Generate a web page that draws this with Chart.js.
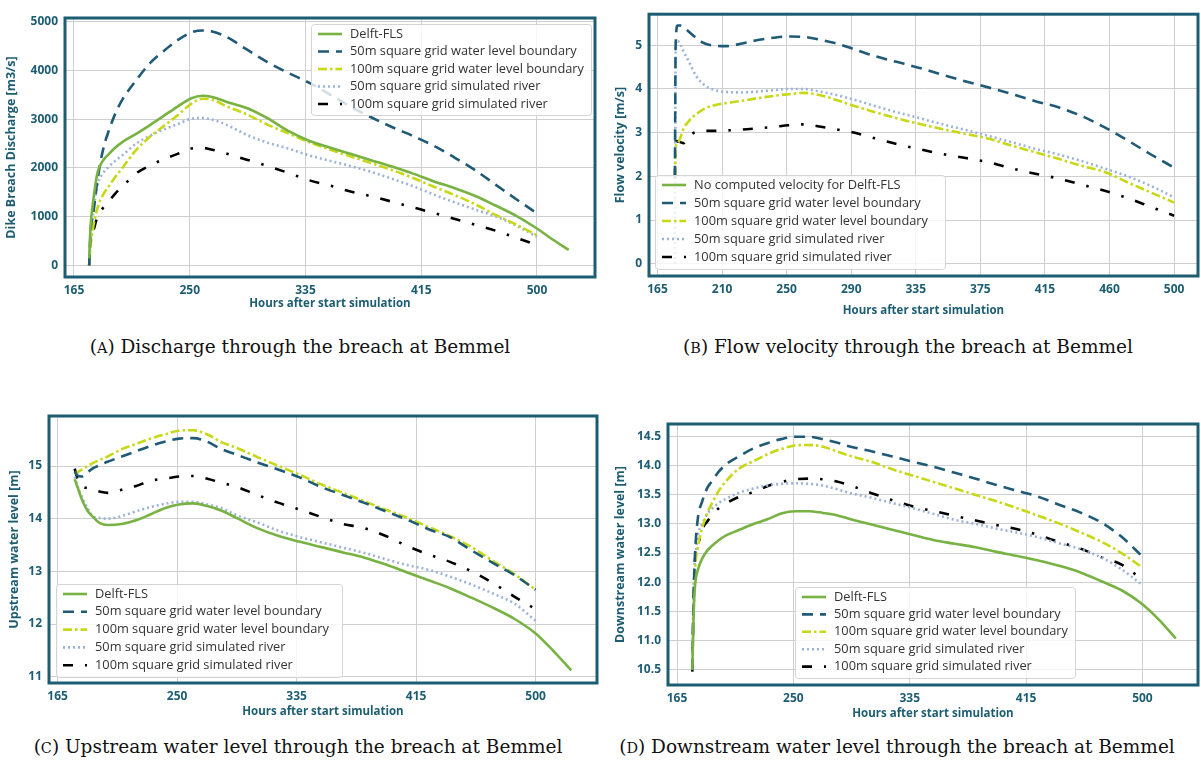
<!DOCTYPE html>
<html lang="en">
<head>
<meta charset="UTF-8">
<title>Breach at Bemmel</title>
<script src="https://cdn.jsdelivr.net/npm/chart.js"></script>
<style>
    body { margin: 0; background: #fff; width: 1201px; height: 765px; position: relative; overflow: hidden; }
    .panel { position: absolute; }
    .caption { position: absolute; text-align: center; font-family: 'DejaVu Serif', serif; font-size: 18.5px; color: #111; white-space: nowrap; }
    .caption .sc { font-size: 0.78em; }
</style>
</head>
<body>
<canvas id="chartA" class="panel" width="600" height="315" style="left:0;top:0"></canvas>
<canvas id="chartB" class="panel" width="601" height="322" style="left:600px;top:0"></canvas>
<canvas id="chartC" class="panel" width="600" height="328" style="left:0;top:395px"></canvas>
<canvas id="chartD" class="panel" width="601" height="325" style="left:600px;top:400px"></canvas>

<div class="caption" style="left:0;width:600px;top:336px">(<span class="sc">A</span>) Discharge through the breach at Bemmel</div>
<div class="caption" style="left:608px;width:600px;top:336px">(<span class="sc">B</span>) Flow velocity through the breach at Bemmel</div>
<div class="caption" style="left:0;width:596px;top:736px">(<span class="sc">C</span>) Upstream water level through the breach at Bemmel</div>
<div class="caption" style="left:597px;width:600px;top:736px">(<span class="sc">D</span>) Downstream water level through the breach at Bemmel</div>

<script>
// series names
const labels = ['Delft-FLS', '50m square grid water level boundary', '100m square grid water level boundary',
    '50m square grid simulated river', '100m square grid simulated river'];
const labelsB = ['No computed velocity for Delft-FLS'].concat(labels.slice(1));

// x ticks (evenly spaced, labels rounded as in the figure)
const xTicks5 = [165, 248.75, 332.5, 416.25, 500];
const xLabels5 = ['165', '250', '335', '415', '500'];
const xTicks9 = [165, 206.875, 248.75, 290.625, 332.5, 374.375, 416.25, 458.125, 500];
const xLabels9 = ['165', '210', '250', '290', '335', '375', '415', '460', '500'];

// (A) discharge [m3/s]
const hoursA = [176, 177, 179, 182, 186, 190, 195, 200, 210, 220, 230, 240, 250, 258, 265, 275, 290, 305, 320, 335, 350, 365, 380, 395, 410, 425, 440, 455, 470, 485, 500, 510, 523];
const delftA = [150, 800, 1344, 1900, 2150, 2280, 2420, 2530, 2700, 2880, 3070, 3260, 3430, 3480, 3455, 3360, 3230, 3020, 2760, 2560, 2420, 2290, 2160, 2030, 1890, 1730, 1590, 1430, 1230, 1020, 760, 560, 320];
const bnd50A = [0, 700, 1073, 1750, 2371, 2750, 3120, 3400, 3800, 4150, 4400, 4620, 4780, 4820, 4800, 4693, 4430, 4170, 3950, 3750, 3510, 3260, 3040, 2840, 2660, 2460, 2220, 1960, 1660, 1360, 1070, null, null];
const bnd100A = [0, 400, 800, 1180, 1450, 1620, 1820, 2000, 2370, 2640, 2860, 3080, 3320, 3420, 3400, 3270, 3100, 2890, 2710, 2530, 2380, 2240, 2100, 1960, 1800, 1620, 1450, 1260, 1040, 840, 620, null, null];
const riv50A = [0, 500, 1100, 1650, 1890, 2020, 2150, 2260, 2500, 2660, 2790, 2900, 3010, 3025, 2990, 2890, 2680, 2520, 2400, 2260, 2150, 2040, 1920, 1780, 1630, 1460, 1300, 1150, 1010, 820, 590, null, null];
const riv100A = [0, 450, 700, 1000, 1180, 1310, 1480, 1620, 1890, 2050, 2180, 2290, 2400, 2410, 2375, 2300, 2170, 2040, 1900, 1750, 1640, 1520, 1420, 1310, 1195, 1080, 960, 840, 715, 570, 420, null, null];
const yTicksA = [0, 1000, 2000, 3000, 4000, 5000];

// (B) flow velocity [m/s]
const hoursB = [176.3, 176.8, 178, 180, 182, 185, 190, 195, 200, 210, 220, 230, 240, 250, 260, 270, 280, 290, 305, 320, 335, 350, 365, 380, 395, 410, 425, 440, 455, 470, 485, 500];
const delftB = [];
const bnd50B = [2.0, 5.0, 5.45, 5.45, 5.42, 5.32, 5.17, 5.05, 5.0, 4.98, 5.04, 5.12, 5.17, 5.2, 5.19, 5.13, 5.05, 4.94, 4.76, 4.62, 4.48, 4.32, 4.17, 4.03, 3.88, 3.72, 3.58, 3.38, 3.12, 2.82, 2.5, 2.2];
const bnd100B = [2.0, 2.65, 2.75, 2.9, 3.1, 3.25, 3.42, 3.54, 3.61, 3.68, 3.73, 3.79, 3.84, 3.88, 3.91, 3.86, 3.76, 3.64, 3.48, 3.33, 3.2, 3.08, 2.97, 2.86, 2.7, 2.55, 2.4, 2.24, 2.1, 1.86, 1.63, 1.4];
const riv50B = [0, 5.1, 5.1, 5.0, 4.85, 4.65, 4.3, 4.1, 4.0, 3.93, 3.92, 3.94, 3.97, 4.0, 4.0, 3.94, 3.87, 3.78, 3.62, 3.47, 3.33, 3.19, 3.06, 2.92, 2.78, 2.63, 2.5, 2.35, 2.18, 2.0, 1.78, 1.52];
const riv100B = [1.95, 2.8, 2.8, 2.78, 2.76, 2.9, 3.02, 3.04, 3.04, 3.05, 3.07, 3.1, 3.13, 3.17, 3.19, 3.14, 3.08, 3.02, 2.88, 2.74, 2.62, 2.51, 2.42, 2.32, 2.18, 2.06, 1.95, 1.81, 1.67, 1.5, 1.3, 1.1];
const yTicksB = [0, 1, 2, 3, 4, 5];

// (C) upstream water level [m]
const hoursC = [177, 179, 182, 186, 190, 195, 200, 210, 220, 230, 240, 250, 260, 270, 280, 290, 305, 320, 335, 350, 365, 380, 395, 410, 425, 440, 455, 470, 485, 500, 512, 525];
const delftC = [14.75, 14.6, 14.37, 14.15, 14.03, 13.91, 13.88, 13.9, 13.97, 14.08, 14.2, 14.27, 14.29, 14.24, 14.15, 14.02, 13.82, 13.67, 13.56, 13.46, 13.36, 13.26, 13.13, 12.98, 12.83, 12.68, 12.5, 12.31, 12.1, 11.82, 11.5, 11.12];
const bnd50C = [14.9, 14.82, 14.8, 14.88, 14.96, 15.02, 15.08, 15.18, 15.28, 15.38, 15.46, 15.52, 15.53, 15.46, 15.32, 15.22, 15.07, 14.93, 14.78, 14.6, 14.45, 14.3, 14.14, 13.98, 13.8, 13.65, 13.4, 13.16, 12.93, 12.65, null, null];
const bnd100C = [14.85, 14.88, 14.93, 15.0, 15.06, 15.12, 15.18, 15.32, 15.42, 15.52, 15.6, 15.67, 15.68, 15.6, 15.45, 15.35, 15.17, 15.0, 14.83, 14.65, 14.49, 14.33, 14.17, 14.02, 13.84, 13.67, 13.46, 13.2, 12.95, 12.65, null, null];
const riv50C = [14.8, 14.62, 14.42, 14.2, 14.04, 14.01, 14.0, 14.05, 14.14, 14.22, 14.28, 14.32, 14.32, 14.27, 14.2, 14.07, 13.93, 13.77, 13.65, 13.55, 13.45, 13.35, 13.23, 13.12, 13.03, 12.9, 12.75, 12.58, 12.39, 12.06, null, null];
const riv100C = [14.95, 14.75, 14.62, 14.58, 14.55, 14.51, 14.49, 14.55, 14.62, 14.72, 14.76, 14.8, 14.81, 14.76, 14.68, 14.61, 14.45, 14.3, 14.17, 14.03, 13.9, 13.82, 13.67, 13.48, 13.32, 13.18, 13.0, 12.78, 12.52, 12.28, null, null];
const yTicksC = [11, 12, 13, 14, 15];

// (D) downstream water level [m]
const hoursD = [176, 177, 178, 180, 183, 187, 190, 195, 200, 210, 220, 230, 240, 250, 260, 270, 280, 290, 305, 320, 335, 350, 365, 380, 395, 410, 425, 440, 455, 470, 485, 500, 512, 524];
const delftD = [10.49, 11.5, 11.95, 12.21, 12.4, 12.55, 12.62, 12.72, 12.8, 12.9, 13.0, 13.08, 13.18, 13.22, 13.22, 13.19, 13.15, 13.08, 12.99, 12.9, 12.81, 12.72, 12.66, 12.6, 12.52, 12.45, 12.37, 12.28, 12.17, 12.02, 11.86, 11.62, 11.35, 11.03];
const bnd50D = [10.49, 11.8, 12.5, 13.1, 13.38, 13.63, 13.73, 13.9, 14.02, 14.17, 14.3, 14.39, 14.46, 14.5, 14.5, 14.46, 14.4, 14.33, 14.25, 14.16, 14.07, 13.98, 13.88, 13.78, 13.67, 13.57, 13.47, 13.33, 13.2, 13.03, 12.78, 12.44, null, null];
const bnd100D = [10.55, 11.5, 12.2, 12.6, 12.92, 13.2, 13.35, 13.57, 13.73, 13.96, 14.08, 14.2, 14.29, 14.35, 14.36, 14.33, 14.25, 14.17, 14.07, 13.94, 13.83, 13.72, 13.61, 13.5, 13.39, 13.27, 13.14, 13.01, 12.86, 12.7, 12.5, 12.25, null, null];
const riv50D = [10.49, 12.0, 12.4, 12.8, 13.0, 13.18, 13.26, 13.36, 13.43, 13.54, 13.61, 13.66, 13.69, 13.7, 13.69, 13.66, 13.6, 13.53, 13.45, 13.36, 13.27, 13.17, 13.07, 13.0, 12.92, 12.85, 12.77, 12.67, 12.57, 12.43, 12.22, 11.95, null, null];
const riv100D = [10.46, 11.75, 12.4, 12.62, 12.9, 13.05, 13.15, 13.27, 13.35, 13.47, 13.55, 13.65, 13.72, 13.77, 13.78, 13.77, 13.73, 13.66, 13.53, 13.41, 13.3, 13.22, 13.14, 13.06, 12.98, 12.91, 12.81, 12.69, 12.58, 12.43, 12.3, 12.04, null, null];
const yTicksD = [10.5, 11, 11.5, 12, 12.5, 13, 13.5, 14, 14.5];

const TEAL = '#1d5d72';
const SANS = "'Open Sans', 'DejaVu Sans', sans-serif";
const styles = [
    { color: '#77b243', dash: [] },
    { color: '#1f5b76', dash: [11, 7] },
    { color: '#c6d816', dash: [9, 3, 2.5, 3] },
    { color: '#9cb2da', dash: [2, 3] },
    { color: '#000000', dash: [10, 12, 2.5, 12] }
];

// legend box in the axes + thick frame around the plot area
const boxLegend = {
    id: 'boxLegend',
    afterDraw(chart, args, opts) {
        const ctx = chart.ctx;
        const b = opts.box;
        ctx.save();
        ctx.fillStyle = 'rgba(255,255,255,0.8)';
        ctx.strokeStyle = '#d4d4d4';
        ctx.lineWidth = 1;
        ctx.beginPath();
        ctx.roundRect(b.x + 0.5, b.y + 0.5, b.w, b.h, 3);
        ctx.fill();
        ctx.stroke();
        ctx.font = '12.8px ' + SANS;
        ctx.textBaseline = 'middle';
        chart.data.datasets.forEach((ds, i) => {
            const y = b.y + opts.first + i * opts.step;
            ctx.strokeStyle = ds.borderColor;
            ctx.lineWidth = ds.borderWidth;
            ctx.setLineDash(ds.borderDash);
            ctx.beginPath();
            ctx.moveTo(b.x + 7, y);
            ctx.lineTo(b.x + 31, y);
            ctx.stroke();
            ctx.setLineDash([]);
            ctx.fillStyle = '#333';
            ctx.fillText(ds.label, b.x + 39, y);
        });
        const a = chart.chartArea;
        ctx.strokeStyle = TEAL;
        ctx.lineWidth = 3;
        ctx.strokeRect(a.left, a.top, a.right - a.left, a.bottom - a.top);
        ctx.restore();
    }
};

function makePanel(id, p) {
    const datasets = p.series.map((vals, i) => ({
        label: p.names[i],
        data: vals.map((v, k) => ({ x: p.hours[k], y: v })),
        borderColor: styles[i].color,
        borderDash: styles[i].dash,
        borderWidth: 2.6,
        pointRadius: 0,
        cubicInterpolationMode: 'monotone',
        fill: false
    }));
    new Chart(document.getElementById(id), {
        type: 'line',
        data: { datasets },
        plugins: [boxLegend],
        options: {
            responsive: false,
            animation: false,
            layout: { padding: p.pad },
            plugins: {
                legend: { display: false },
                tooltip: { enabled: false },
                boxLegend: { box: p.legend, first: 10, step: p.step }
            },
            scales: {
                x: {
                    type: 'linear', min: p.xMin, max: p.xMax,
                    afterBuildTicks: s => { s.ticks = p.xTicks.map(v => ({ value: v })); },
                    afterFit: s => { s.height = p.xH; },
                    grid: { color: '#cfcfcf', drawTicks: false },
                    border: { display: false },
                    ticks: {
                        padding: 6, color: TEAL, maxRotation: 0, autoSkip: false,
                        font: { family: SANS, size: 12, weight: 'bold' },
                        callback: (v, i) => p.xLabels[i]
                    },
                    title: {
                        display: true, text: 'Hours after start simulation', color: TEAL,
                        font: { family: SANS, size: 11.5, weight: 'bold' }, padding: { top: 2, bottom: 4 }
                    }
                },
                y: {
                    min: p.yMin, max: p.yMax,
                    afterBuildTicks: s => { s.ticks = p.yTicks.map(v => ({ value: v })); },
                    afterFit: s => { s.width = p.yW; },
                    grid: { color: '#cfcfcf', drawTicks: false },
                    border: { display: false },
                    ticks: {
                        padding: 7, color: TEAL, autoSkip: false,
                        font: { family: SANS, size: 12, weight: 'bold' },
                        callback: v => p.yFmt(v)
                    },
                    title: {
                        display: true, text: p.yTitle, color: TEAL,
                        font: { family: SANS, size: 12.5, weight: 'bold' }, padding: { top: 3, bottom: 4 }
                    }
                }
            }
        }
    });
}

makePanel('chartA', {
    names: labels, hours: hoursA, series: [delftA, bnd50A, bnd100A, riv50A, riv100A],
    xMin: 158.5, xMax: 542, yMin: -235, yMax: 5075,
    xTicks: xTicks5, xLabels: xLabels5, yTicks: yTicksA, yFmt: v => String(v),
    yTitle: 'Dike Breach Discharge [m3/s]',
    pad: { left: 1, right: 5, top: 18, bottom: 0 }, yW: 64, xH: 38,
    legend: { x: 311, y: 24, w: 280, h: 91 }, step: 17.5
});

makePanel('chartB', {
    names: labelsB, hours: hoursB, series: [delftB, bnd50B, bnd100B, riv50B, riv100B],
    xMin: 159.5, xMax: 515.5, yMin: -0.28, yMax: 5.71,
    xTicks: xTicks9, xLabels: xLabels9, yTicks: yTicksB, yFmt: v => String(v),
    yTitle: 'Flow velocity [m/s]',
    pad: { left: 10, right: 3, top: 5, bottom: 0 }, yW: 39, xH: 46,
    legend: { x: 55, y: 175, w: 290, h: 94 }, step: 18
});

makePanel('chartC', {
    names: labels, hours: hoursC, series: [delftC, bnd50C, bnd100C, riv50C, riv100C],
    xMin: 159, xMax: 543, yMin: 10.88, yMax: 15.95,
    xTicks: xTicks5, xLabels: xLabels5, yTicks: yTicksC, yFmt: v => String(v),
    yTitle: 'Upstream water level [m]',
    pad: { left: 4, right: 3, top: 21, bottom: 0 }, yW: 45, xH: 40,
    legend: { x: 56, y: 189, w: 286, h: 93 }, step: 17.8
});

makePanel('chartD', {
    names: labels, hours: hoursD, series: [delftD, bnd50D, bnd100D, riv50D, riv100D],
    xMin: 158.5, xMax: 540, yMin: 10.23, yMax: 14.72,
    xTicks: xTicks5, xLabels: xLabels5, yTicks: yTicksD, yFmt: v => v.toFixed(1),
    yTitle: 'Downstream water level [m]',
    pad: { left: 10, right: 3, top: 24, bottom: 0 }, yW: 58, xH: 40,
    legend: { x: 195, y: 187, w: 280, h: 91 }, step: 17.4
});
</script>
</body>
</html>
